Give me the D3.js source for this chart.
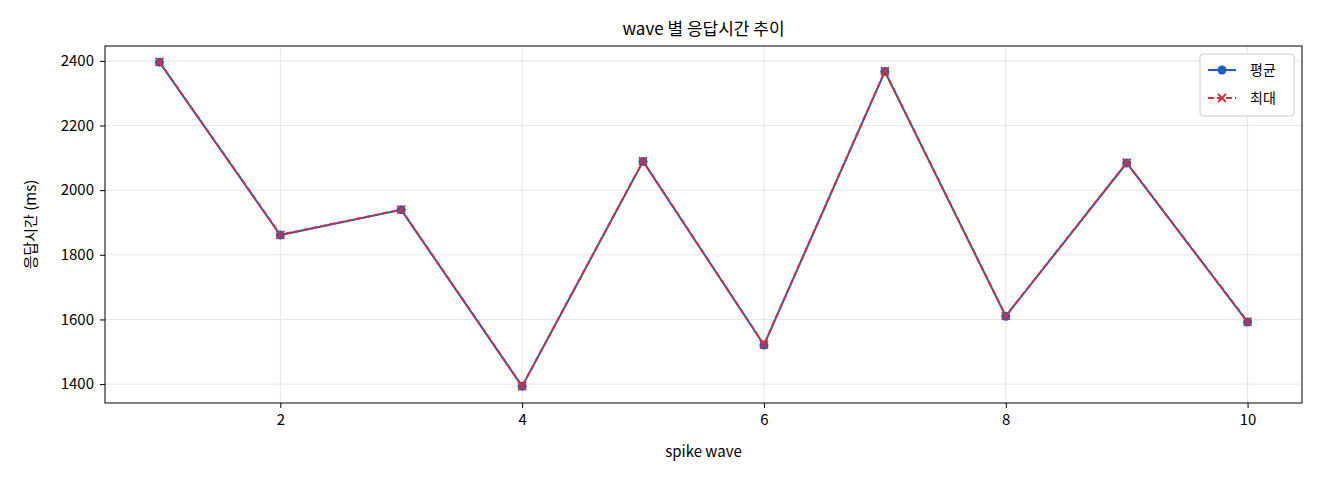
<!DOCTYPE html><html><head><meta charset="utf-8"><script src="https://cdn.jsdelivr.net/npm/d3@7"></script>
<style>body{margin:0;background:#fff}text{font-family:"Noto Sans CJK KR","DejaVu Sans",sans-serif}</style></head><body>
<svg id="c" width="1320" height="480"></svg>
<script>
const waves=[1,2,3,4,5,6,7,8,9,10];
const avgVals=[2396,1861,1939,1393,2089,1521,2367,1610,2084,1592];
const maxVals=[2397,1862,1940,1394,2090,1522,2368,1611,2085,1593];
const xTicks=[2,4,6,8,10];
const yTicks=[1400,1600,1800,2000,2200,2400];
const svg=d3.select("#c");
const L=105,R=1302,T=46,B=403;
const x=d3.scaleLinear().domain([0.55,10.45]).range([L,R]);
const y=d3.scaleLinear().domain([1341.5,2446]).range([B,T]);
const g=svg.append("g");
g.selectAll(".gx").data(xTicks).join("line").attr("x1",d=>x(d)).attr("x2",d=>x(d)).attr("y1",T).attr("y2",B).attr("stroke","#e6e6e6");
g.selectAll(".gy").data(yTicks).join("line").attr("y1",d=>y(d)).attr("y2",d=>y(d)).attr("x1",L).attr("x2",R).attr("stroke","#e6e6e6");
const xa=svg.append("g").attr("transform",`translate(0,${B})`).call(d3.axisBottom(x).tickValues(xTicks).tickFormat(d3.format("d")).tickSize(5).tickPadding(6));
const ya=svg.append("g").attr("transform",`translate(${L},0)`).call(d3.axisLeft(y).tickValues(yTicks).tickFormat(d3.format("d")).tickSize(5).tickPadding(6));
[xa,ya].forEach(a=>{a.select(".domain").remove();a.selectAll("text").attr("font-size",15).attr("fill","#000").style("font-family","'Noto Sans CJK KR'");a.selectAll("line").attr("stroke","#000");});
svg.append("rect").attr("x",L).attr("y",T).attr("width",R-L).attr("height",B-T).attr("fill","none").attr("stroke","#000");
const ln=d3.line().x((d,i)=>x(waves[i])).y(d=>y(d));
svg.append("path").attr("d",ln(avgVals)).attr("fill","none").attr("stroke","#1f5fbf").attr("stroke-width",2);
svg.selectAll(".p").data(avgVals).join("circle").attr("cx",(d,i)=>x(waves[i])).attr("cy",d=>y(d)).attr("r",4.5).attr("fill","#1f5fbf");
svg.append("path").attr("d",ln(maxVals)).attr("fill","none").attr("stroke","#d62f3a").attr("stroke-width",2).attr("stroke-dasharray","6,3");
const cross=(sel,cx,cy)=>{sel.append("path").attr("d",`M${cx-4},${cy-4}L${cx+4},${cy+4}M${cx-4},${cy+4}L${cx+4},${cy-4}`).attr("stroke","#d62f3a").attr("stroke-width",1.8);};
maxVals.forEach((d,i)=>cross(svg,x(waves[i]),y(d)));
svg.append("text").attr("x",(L+R)/2).attr("y",35).attr("text-anchor","middle").attr("font-size",17).text("wave 별 응답시간 추이");
svg.append("text").attr("x",(L+R)/2).attr("y",457).attr("text-anchor","middle").attr("font-size",15).text("spike wave");
svg.append("text").attr("transform",`translate(36,${(T+B)/2}) rotate(-90)`).attr("text-anchor","middle").attr("font-size",15).text("응답시간 (ms)");
const lg=svg.append("g").attr("transform","translate(1200,54)");
lg.append("rect").attr("width",94).attr("height",62).attr("rx",3).attr("fill","#fff").attr("stroke","#ccc");
lg.append("line").attr("x1",8).attr("x2",36).attr("y1",16).attr("y2",16).attr("stroke","#1f5fbf").attr("stroke-width",2);
lg.append("circle").attr("cx",22).attr("cy",16).attr("r",4.5).attr("fill","#1f5fbf");
lg.append("text").attr("x",50).attr("y",21).attr("font-size",14).text("평균");
lg.append("line").attr("x1",8).attr("x2",36).attr("y1",44).attr("y2",44).attr("stroke","#d62f3a").attr("stroke-width",2).attr("stroke-dasharray","6,3");
cross(lg,22,44);
lg.append("text").attr("x",50).attr("y",49).attr("font-size",14).text("최대");
</script></body></html>
